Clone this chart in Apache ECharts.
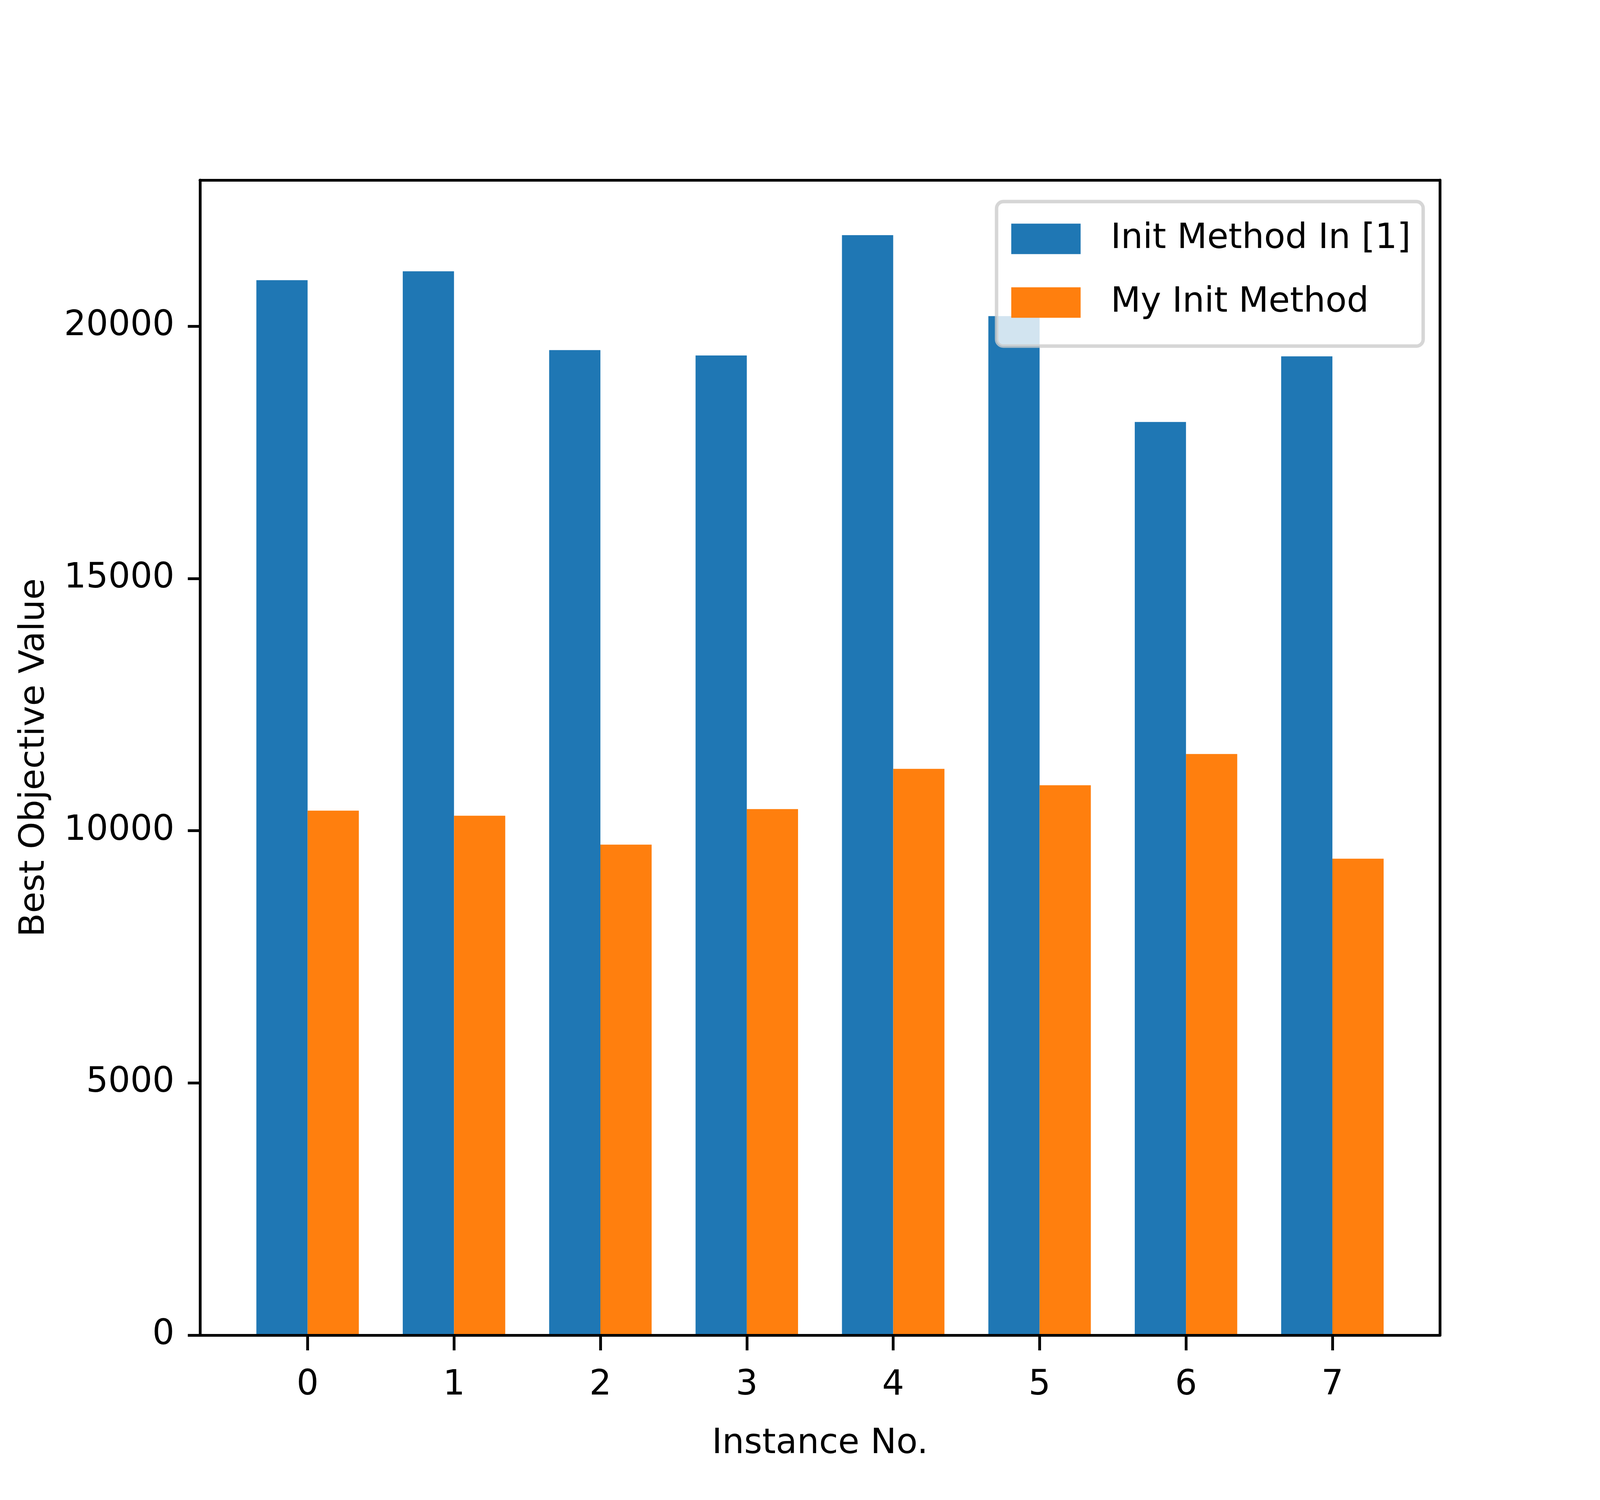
<!DOCTYPE html>
<html>
<head>
<meta charset="utf-8">
<script src="https://cdn.jsdelivr.net/npm/echarts@6/dist/echarts.min.js"></script>
<style>
  html, body { margin: 0; padding: 0; background: #fff; overflow: hidden; }
  #chart { width: 100vw; height: 100vh; }
</style>
</head>
<body>
<div id="chart"></div>
<script>
// instance numbers on the x axis
const instances = [0, 1, 2, 3, 4, 5, 6, 7];
// best objective values
const initMethodRef = [20914, 21090, 19527, 19421, 21806, 20202, 18103, 19404];
const myInitMethod = [10397, 10297, 9724, 10428, 11226, 10901, 11521, 9445];
const yTicks = [0, 5000, 10000, 15000, 20000];
const seriesNames = ['Init Method In [1]', 'My Init Method'];

const FONT = 'DejaVu Sans';

const dom = document.getElementById('chart');
// layout numbers below are for a 5120 x 3840 figure; scale to the real viewport
const sx = dom.clientWidth / 5120;
const sy = dom.clientHeight / 3840;
const px = v => v * sx;
const py = v => v * sy;
const LINE = px(8.9);
const FS = px(111);

const chart = echarts.init(dom, null, { renderer: 'canvas' });

const option = {
  animation: false,
  backgroundColor: '#ffffff',
  textStyle: { fontFamily: FONT, color: '#000' },
  grid: { left: px(640), right: px(512), top: py(461), bottom: py(422) },
  legend: {
    orient: 'vertical',
    left: px(3189),
    top: py(516),
    data: seriesNames,
    icon: 'rect',
    itemWidth: px(222),
    itemHeight: py(78),
    itemGap: py(52),
    padding: [py(40), px(40), py(56), px(47)],
    backgroundColor: 'rgba(255,255,255,0.8)',
    borderColor: 'rgba(204,204,204,0.8)',
    borderWidth: px(11),
    borderRadius: px(22),
    textStyle: {
      fontFamily: FONT,
      fontSize: FS,
      lineHeight: py(111),
      color: '#000',
      padding: [0, 0, 0, px(90)]
    }
  },
  xAxis: [
    {
      type: 'value',
      position: 'bottom',
      min: -0.735,
      max: 7.735,
      z: 5,
      splitLine: { show: false },
      axisLine: { show: true, onZero: false, lineStyle: { color: '#000', width: LINE } },
      axisTick: {
        show: true,
        customValues: instances,
        length: py(39),
        lineStyle: { color: '#000', width: LINE }
      },
      axisLabel: {
        customValues: instances,
        margin: py(84),
        fontFamily: FONT,
        fontSize: FS,
        color: '#000',
        formatter: v => String(v)
      },
      name: 'Instance No.',
      nameLocation: 'middle',
      nameGap: py(234),
      nameTextStyle: { fontFamily: FONT, fontSize: FS, color: '#000' }
    },
    {
      type: 'value',
      position: 'top',
      min: -0.735,
      max: 7.735,
      z: 5,
      splitLine: { show: false },
      axisLine: { show: true, onZero: false, lineStyle: { color: '#000', width: LINE } },
      axisTick: { show: false },
      axisLabel: { show: false }
    }
  ],
  yAxis: [
    {
      type: 'value',
      position: 'left',
      min: 0,
      max: 22898,
      z: 5,
      splitLine: { show: false },
      axisLine: { show: true, onZero: false, lineStyle: { color: '#000', width: LINE } },
      axisTick: {
        show: true,
        customValues: yTicks,
        length: px(39),
        lineStyle: { color: '#000', width: LINE }
      },
      axisLabel: {
        customValues: yTicks,
        margin: px(82),
        fontFamily: FONT,
        fontSize: FS,
        color: '#000',
        formatter: v => String(v)
      },
      name: 'Best Objective Value',
      nameLocation: 'middle',
      nameRotate: 90,
      nameGap: px(473),
      nameTextStyle: { fontFamily: FONT, fontSize: FS, color: '#000' }
    },
    {
      type: 'value',
      position: 'right',
      min: 0,
      max: 22898,
      z: 5,
      splitLine: { show: false },
      axisLine: { show: true, onZero: false, lineStyle: { color: '#000', width: LINE } },
      axisTick: { show: false },
      axisLabel: { show: false }
    }
  ],
  series: [
    {
      name: seriesNames[0],
      type: 'bar',
      xAxisIndex: 0,
      yAxisIndex: 0,
      barWidth: '35%',
      barGap: '0%',
      itemStyle: { color: '#1f77b4' },
      data: instances.map((x, i) => [x, initMethodRef[i]])
    },
    {
      name: seriesNames[1],
      type: 'bar',
      xAxisIndex: 0,
      yAxisIndex: 0,
      barWidth: '35%',
      barGap: '0%',
      itemStyle: { color: '#ff7f0e' },
      data: instances.map((x, i) => [x, myInitMethod[i]])
    }
  ]
};

chart.setOption(option);
window.addEventListener('resize', () => chart.resize());
</script>
</body>
</html>
